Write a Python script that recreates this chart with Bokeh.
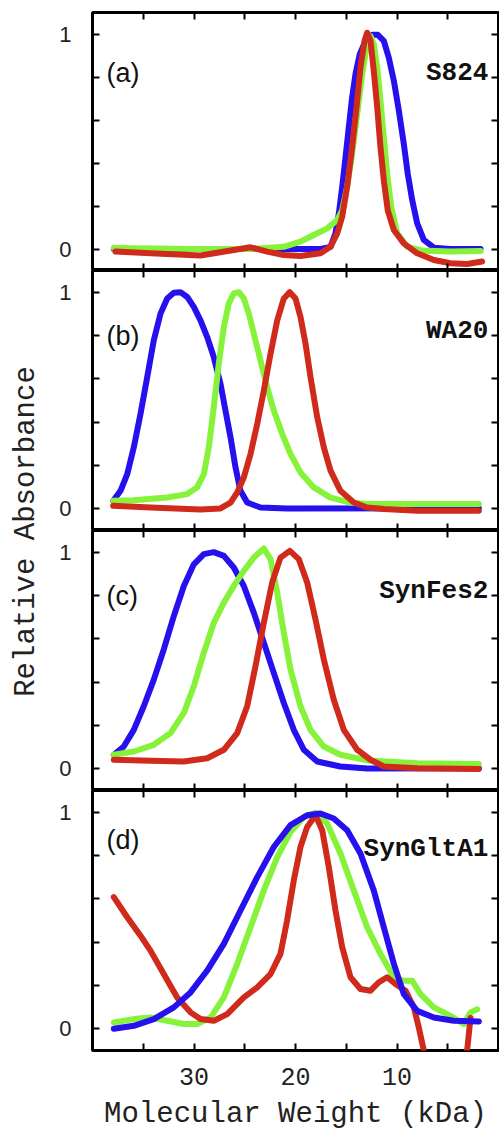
from math import pi
from bokeh.plotting import figure
from bokeh.models import Range1d, LinearAxis, FixedTicker, Label
from bokeh.layouts import row, column
from bokeh.embed import file_html
from bokeh.resources import INLINE

# ---------------- data (molecular weight in kDa, relative absorbance) ----------------
names = ["S824", "WA20", "SynFes2", "SynGltA1"]
letters = ["(a)", "(b)", "(c)", "(d)"]

a_blue_mw = [37.9, 30.0, 24.0, 20.0, 17.5, 16.55, 16.06, 15.73, 15.40, 15.07, 14.75, 14.42, 14.09, 13.67, 13.10, 12.44, 11.89, 11.30, 10.81, 10.31, 9.82, 9.33, 8.94, 8.50, 8.01, 7.36, 6.37, 4.73, 1.77]
a_blue_y = [0.0, 0.0, 0.0, 0.0, 0.0, 0.01, 0.073, 0.165, 0.289, 0.428, 0.566, 0.705, 0.813, 0.906, 0.968, 0.996, 0.996, 0.968, 0.89, 0.782, 0.644, 0.489, 0.35, 0.227, 0.119, 0.042, 0.006, 0.0, 0.0]
a_green_mw = [37.9, 30.0, 24.43, 21.15, 19.51, 18.20, 16.88, 15.89, 15.40, 14.91, 14.42, 13.92, 13.43, 13.0, 12.61, 12.29, 11.95, 11.63, 11.30, 10.97, 10.57, 9.98, 9.00, 7.68, 4.73, 1.77]
a_green_y = [0.005, 0.0, 0.0, 0.01, 0.034, 0.065, 0.096, 0.134, 0.18, 0.289, 0.443, 0.628, 0.813, 0.937, 0.99, 0.952, 0.844, 0.69, 0.52, 0.35, 0.196, 0.073, 0.011, -0.007, -0.012, -0.009]
a_red_mw = [37.73, 34.29, 29.36, 26.08, 24.43, 22.79, 21.15, 19.51, 17.54, 16.55, 15.89, 15.40, 14.91, 14.42, 13.99, 13.60, 13.20, 12.94, 12.61, 12.29, 11.95, 11.63, 11.30, 10.91, 10.31, 9.33, 8.01, 6.37, 4.73, 3.09, 1.61]
a_red_y = [-0.012, -0.02, -0.03, -0.005, 0.008, -0.012, -0.028, -0.033, -0.02, 0.011, 0.073, 0.15, 0.289, 0.474, 0.659, 0.844, 0.968, 1.006, 0.968, 0.829, 0.659, 0.474, 0.319, 0.18, 0.088, 0.026, -0.02, -0.051, -0.066, -0.07, -0.058]

b_blue_mw = [37.96, 37.24, 36.58, 35.93, 35.27, 34.61, 33.96, 33.30, 32.64, 31.99, 31.33, 30.67, 30.02, 29.36, 28.70, 28.05, 27.39, 26.90, 26.40, 25.91, 25.42, 24.76, 23.45, 20.83, 1.94]
b_blue_y = [0.037, 0.083, 0.16, 0.284, 0.438, 0.608, 0.778, 0.901, 0.971, 0.997, 1.0, 0.978, 0.932, 0.87, 0.793, 0.70, 0.577, 0.454, 0.33, 0.191, 0.083, 0.029, 0.006, 0.002, 0.003]
b_green_mw = [37.96, 35.93, 32.64, 30.67, 29.69, 29.03, 28.54, 28.05, 27.56, 27.06, 26.57, 26.08, 25.59, 25.09, 24.60, 24.11, 23.45, 22.79, 22.14, 21.31, 20.49, 19.51, 18.20, 16.55, 14.58, 12.94, 1.94]
b_green_y = [0.037, 0.04, 0.052, 0.068, 0.099, 0.16, 0.284, 0.469, 0.67, 0.839, 0.948, 0.994, 1.0, 0.971, 0.901, 0.809, 0.685, 0.562, 0.454, 0.346, 0.253, 0.168, 0.099, 0.052, 0.029, 0.022, 0.022]
b_red_mw = [37.96, 34.29, 29.36, 27.39, 26.40, 25.74, 25.09, 24.43, 23.77, 23.12, 22.46, 21.80, 21.15, 20.56, 20.0, 19.51, 19.01, 18.52, 17.86, 17.21, 16.55, 15.57, 14.26, 12.94, 11.30, 8.01, 1.94]
b_red_y = [0.014, 0.006, -0.003, 0.002, 0.029, 0.076, 0.145, 0.253, 0.392, 0.546, 0.716, 0.87, 0.971, 1.0, 0.971, 0.886, 0.762, 0.608, 0.423, 0.284, 0.176, 0.083, 0.029, 0.006, -0.001, -0.009, -0.009]

c_blue_mw = [37.90, 36.92, 35.93, 34.95, 33.96, 32.98, 31.99, 31.0, 30.02, 29.03, 28.05, 27.06, 26.08, 25.09, 24.11, 23.12, 22.14, 21.15, 20.17, 19.18, 17.86, 15.57, 12.94, 1.94]
c_blue_y = [0.065, 0.103, 0.18, 0.289, 0.412, 0.551, 0.705, 0.844, 0.944, 0.991, 1.0, 0.983, 0.929, 0.844, 0.721, 0.582, 0.443, 0.304, 0.18, 0.088, 0.034, 0.011, 0.002, 0.003]
c_green_mw = [37.90, 35.93, 33.96, 32.32, 31.0, 30.02, 29.03, 28.05, 27.06, 26.08, 25.09, 24.11, 23.12, 22.46, 21.80, 21.15, 20.49, 19.51, 18.52, 17.21, 15.57, 12.94, 8.01, 1.94]
c_green_y = [0.065, 0.08, 0.111, 0.165, 0.258, 0.381, 0.536, 0.674, 0.767, 0.844, 0.914, 0.975, 1.017, 0.968, 0.813, 0.628, 0.458, 0.289, 0.18, 0.103, 0.065, 0.039, 0.026, 0.022]
c_red_mw = [37.90, 34.29, 31.0, 28.70, 27.06, 25.74, 24.76, 23.94, 23.12, 22.30, 21.48, 20.56, 19.68, 18.85, 18.03, 17.21, 16.23, 15.24, 13.92, 12.61, 11.30, 8.01, 1.94]
c_red_y = [0.042, 0.037, 0.034, 0.049, 0.088, 0.165, 0.289, 0.474, 0.674, 0.86, 0.975, 1.006, 0.968, 0.86, 0.69, 0.505, 0.319, 0.18, 0.088, 0.042, 0.011, 0.003, -0.001]

d_blue_mw = [37.90, 35.93, 33.96, 31.99, 30.34, 28.70, 27.06, 25.42, 23.77, 22.14, 20.49, 18.85, 17.54, 16.23, 14.91, 13.60, 12.29, 11.30, 10.31, 9.33, 8.01, 6.37, 4.40, 1.94]
d_blue_y = [0.0, 0.014, 0.045, 0.099, 0.168, 0.269, 0.392, 0.546, 0.70, 0.839, 0.94, 0.986, 0.994, 0.971, 0.917, 0.809, 0.639, 0.469, 0.30, 0.16, 0.083, 0.052, 0.037, 0.034]
d_green_mw = [37.90, 35.93, 34.29, 32.64, 31.0, 29.69, 28.37, 27.06, 25.74, 24.43, 23.12, 21.80, 20.49, 19.18, 18.03, 16.88, 15.57, 14.26, 12.94, 11.63, 10.31, 9.33, 8.50, 7.68, 6.37, 4.73, 3.42, 2.76, 2.10]
d_green_y = [0.029, 0.045, 0.052, 0.037, 0.022, 0.022, 0.052, 0.145, 0.30, 0.469, 0.639, 0.793, 0.909, 0.978, 0.997, 0.948, 0.809, 0.639, 0.469, 0.346, 0.238, 0.222, 0.222, 0.16, 0.099, 0.06, 0.022, 0.076, 0.09]
d_red_mw = [37.90, 36.58, 35.27, 34.29, 32.98, 31.66, 30.34, 29.36, 28.05, 26.73, 25.09, 23.77, 22.46, 21.48, 20.83, 20.17, 19.51, 18.85, 18.03, 17.37, 16.72, 16.06, 15.40, 14.58, 13.60, 12.61, 11.79, 10.97, 10.15, 9.16, 8.34, 7.85, 7.36, 6.5, 3.5, 3.09, 2.76]
d_red_y = [0.608, 0.515, 0.43, 0.361, 0.253, 0.145, 0.076, 0.045, 0.037, 0.068, 0.145, 0.191, 0.253, 0.346, 0.5, 0.685, 0.839, 0.932, 0.986, 0.917, 0.747, 0.546, 0.377, 0.238, 0.184, 0.176, 0.215, 0.238, 0.207, 0.176, 0.099, 0.006, -0.1, -0.25, -0.25, -0.1, 0.05]

x_major = [30, 20, 10]
x_minor = [35, 25, 15, 5]
y_major = [0, 1]
y_minor = [0.2, 0.4, 0.6, 0.8]

BLUE = "#2610EE"
GREEN = "#86F23A"
RED = "#CF2A1C"

panels = [
    dict(series=[(a_blue_mw, a_blue_y, BLUE), (a_green_mw, a_green_y, GREEN), (a_red_mw, a_red_y, RED)], ly=0.82, ny=0.82),
    dict(series=[(b_blue_mw, b_blue_y, BLUE), (b_green_mw, b_green_y, GREEN), (b_red_mw, b_red_y, RED)], ly=0.80, ny=0.82),
    dict(series=[(c_blue_mw, c_blue_y, BLUE), (c_green_mw, c_green_y, GREEN), (c_red_mw, c_red_y, RED)], ly=0.80, ny=0.82),
    dict(series=[(d_green_mw, d_green_y, GREEN), (d_red_mw, d_red_y, RED), (d_blue_mw, d_blue_y, BLUE)], ly=0.87, ny=0.83),
]

MONO = "Liberation Mono"
SANS = "Liberation Sans"
W = 451
LEFT_W = 48
heights = [270, 260, 260, 305]
tops = [12, 0, 0, 0]
bottoms = [0, 0, 0, 45]
STACK_H = sum(heights)
TITLE_H = 37


def style_axis(ax):
    ax.axis_line_color = None
    ax.major_tick_in = 7
    ax.major_tick_out = 0
    ax.minor_tick_in = 7
    ax.minor_tick_out = 0
    ax.major_tick_line_width = 2
    ax.minor_tick_line_width = 2
    ax.major_tick_line_color = "black"
    ax.minor_tick_line_color = "black"


def bare_axis(ticks):
    ax = LinearAxis(ticker=FixedTicker(ticks=[], minor_ticks=ticks))
    style_axis(ax)
    ax.major_label_standoff = 0
    ax.major_label_text_font_size = "0px"
    return ax


figs = []
for i, pan in enumerate(panels):
    p = figure(width=W, height=heights[i], x_range=Range1d(40, 0), y_range=Range1d(-0.1, 1.1),
               output_backend="svg", toolbar_location=None,
               x_axis_location=None, y_axis_location=None,
               min_border_left=44, min_border_right=1,
               min_border_top=tops[i], min_border_bottom=bottoms[i])
    p.grid.visible = False
    p.outline_line_color = "black"
    p.outline_line_width = 3
    p.background_fill_color = "white"
    p.border_fill_color = "white"

    left = LinearAxis(ticker=FixedTicker(ticks=y_major, minor_ticks=y_minor))
    style_axis(left)
    left.major_label_standoff = 21
    left.major_label_text_font = SANS
    left.major_label_text_font_size = "22px"
    left.major_label_text_color = "#222222"
    p.add_layout(left, "left")
    p.add_layout(bare_axis(y_major + y_minor), "right")
    p.add_layout(bare_axis(x_major + x_minor), "above")
    if i == 3:
        bot = LinearAxis(ticker=FixedTicker(ticks=x_major, minor_ticks=x_minor))
        style_axis(bot)
        bot.major_label_standoff = 17
        bot.major_label_text_font = MONO
        bot.major_label_text_font_size = "25px"
        bot.major_label_text_color = "#222222"
        p.add_layout(bot, "below")
    else:
        p.add_layout(bare_axis(x_major + x_minor), "below")

    for mw, y, col in pan["series"]:
        p.line(mw, y, line_color=col, line_width=6, line_cap="round", line_join="round")

    p.add_layout(Label(x=38.62, y=pan["ly"], text=letters[i], text_font=SANS, text_font_size="27px",
                       text_align="left", text_baseline="alphabetic", text_color="#111111"))
    p.add_layout(Label(x=1.0, y=pan["ny"], text=names[i], text_font=MONO, text_font_style="bold",
                       text_font_size="26px", text_align="right", text_baseline="alphabetic",
                       text_color="#111111"))
    figs.append(p)

# x-axis title strip
tf = figure(width=W, height=TITLE_H, x_range=Range1d(40, 0), y_range=Range1d(TITLE_H, 0),
            output_backend="svg", toolbar_location=None, x_axis_location=None, y_axis_location=None,
            min_border_left=44, min_border_right=1, min_border_top=0, min_border_bottom=0)
tf.grid.visible = False
tf.outline_line_color = None
tf.add_layout(Label(x=20, y=19, text="Molecular Weight (kDa)", text_align="center",
                    text_baseline="alphabetic", text_font=MONO, text_font_size="29px",
                    text_color="#222222"))

# y-axis title strip
lf = figure(width=LEFT_W, height=STACK_H, x_range=Range1d(0, LEFT_W), y_range=Range1d(STACK_H, 0),
            output_backend="svg", toolbar_location=None, x_axis_location=None, y_axis_location=None,
            min_border=0)
lf.grid.visible = False
lf.outline_line_color = None
lf.add_layout(Label(x=26, y=531, text="Relative Absorbance", angle=pi / 2, text_align="center",
                    text_baseline="alphabetic", text_font=MONO, text_font_size="29px",
                    text_color="#222222"))

layout = row(lf, column(*figs, tf))
open("out.html", "w").write(file_html(layout, INLINE))
